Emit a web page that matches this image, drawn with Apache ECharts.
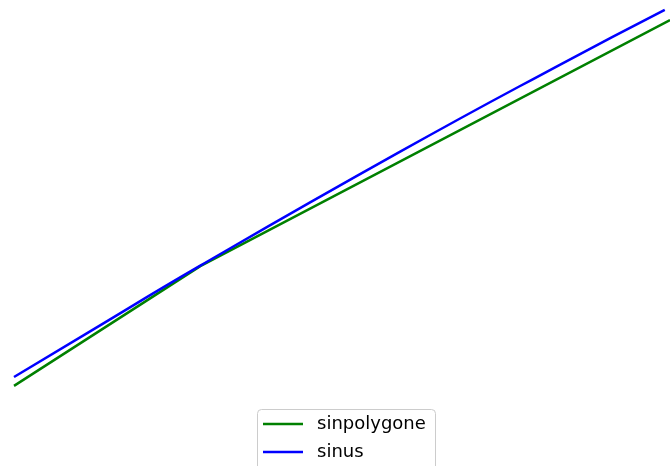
<!DOCTYPE html>
<html>
<head>
<meta charset="utf-8">
<script src="https://cdn.jsdelivr.net/npm/echarts@6/dist/echarts.min.js"></script>
<style>html,body{margin:0;padding:0;background:#fff}#c{width:670px;height:466px}</style>
</head>
<body>
<div id="c"></div>
<script>
const seriesNames = ['sinpolygone', 'sinus'];
const polyX = [0, 0.284, 1.0];
const polyY = [0.172, 0.429, 0.957];
const sinX = [0, 0.116, 0.284, 0.588, 0.832, 0.992];
const sinY = [0.191, 0.289, 0.430, 0.674, 0.861, 0.979];

const zip = (xs, ys) => xs.map((x, i) => [x, ys[i]]);
const legendBase = {
  orient: 'vertical',
  left: 263,
  padding: 0,
  itemWidth: 40,
  itemHeight: 2.5,
  icon: 'rect',
  textStyle: {fontFamily: 'DejaVu Sans', fontSize: 18, color: '#000', lineHeight: 20, padding: [0, 0, 0, 9]}
};
const chart = echarts.init(document.getElementById('c'), null, {renderer: 'canvas'});
chart.setOption({
  animation: false,
  backgroundColor: '#ffffff',
  grid: {left: 14, right: 0, top: 0, bottom: 0},
  xAxis: {type: 'value', min: 0, max: 1, show: false},
  yAxis: {type: 'value', min: 0, max: 1, show: false},
  graphic: [{
    type: 'rect', left: 257, top: 409, z: 0,
    shape: {width: 178, height: 80, r: 4},
    style: {fill: '#ffffff', stroke: '#cccccc', lineWidth: 1}
  }],
  legend: [
    Object.assign({}, legendBase, {top: 414, data: [seriesNames[0]]}),
    Object.assign({}, legendBase, {top: 442, data: [seriesNames[1]]})
  ],
  series: [
    {name: seriesNames[0], type: 'line', data: zip(polyX, polyY), symbol: 'none',
     color: '#008000', lineStyle: {width: 2.5, color: '#008000'}},
    {name: seriesNames[1], type: 'line', data: zip(sinX, sinY), symbol: 'none', smooth: true,
     color: '#0000ff', lineStyle: {width: 2.5, color: '#0000ff'}}
  ]
});
</script>
</body>
</html>
